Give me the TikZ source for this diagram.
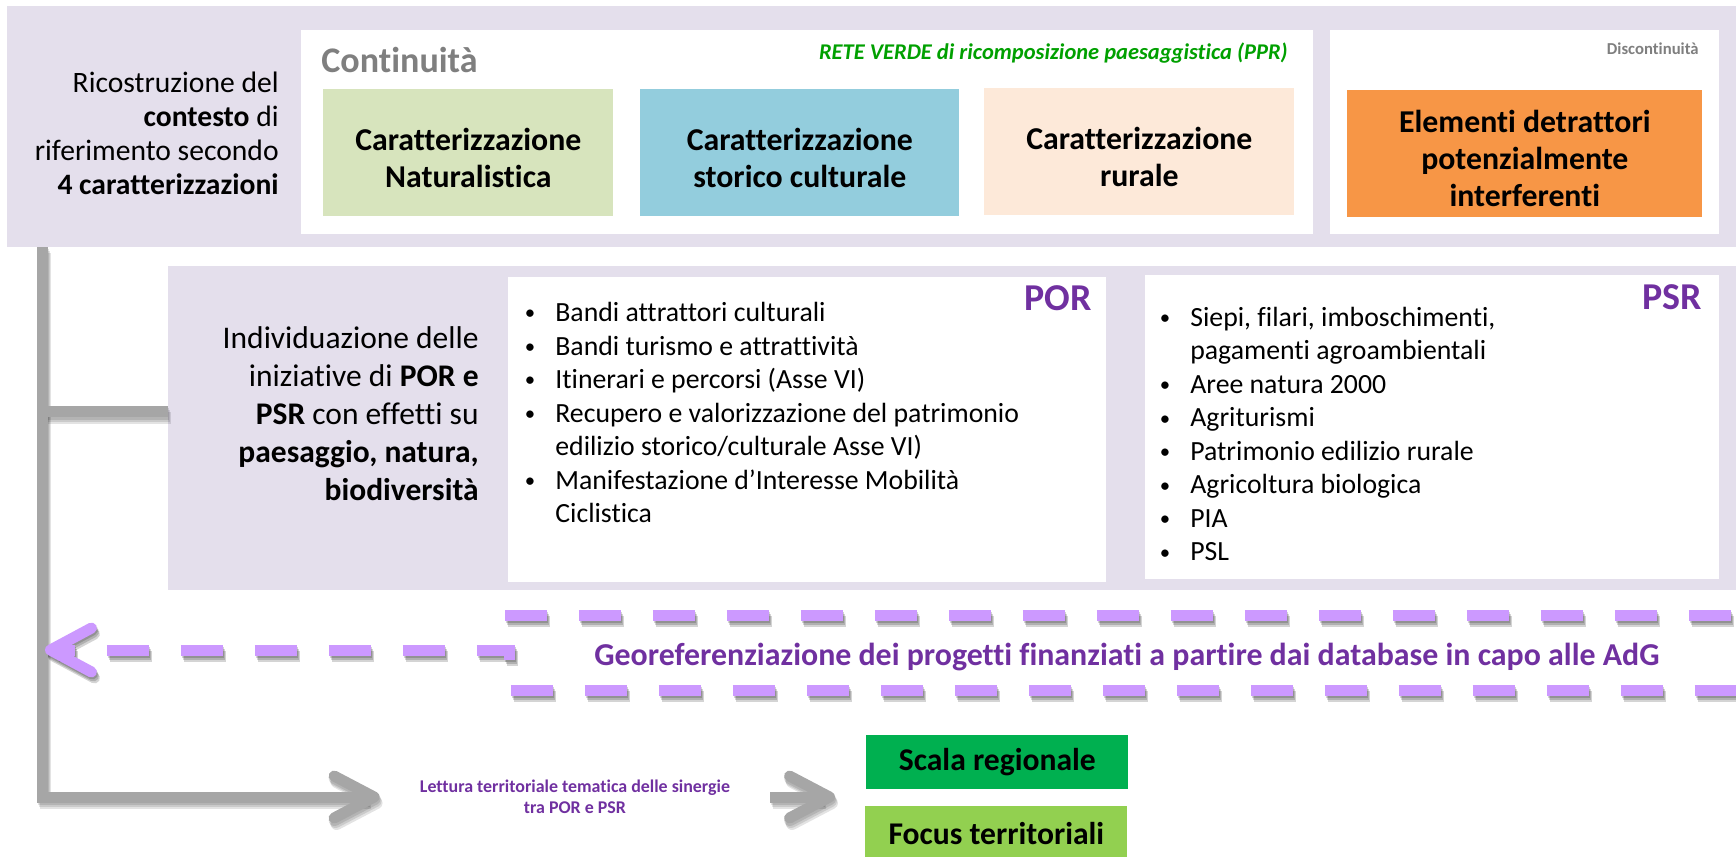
\documentclass[tikz,border=0pt]{standalone}
\usepackage{fontspec}
\setmainfont{Carlito}[Ligatures={NoCommon, NoContextual}]
\usepackage{tikz}
\usetikzlibrary{arrows.meta, positioning, calc}

\definecolor{bandlav}{HTML}{E4DFEC}
\definecolor{natgreen}{HTML}{D7E4BD}
\definecolor{stoblue}{HTML}{93CDDD}
\definecolor{rurpeach}{HTML}{FDE9D9}
\definecolor{detorange}{HTML}{F79646}
\definecolor{reteverde}{HTML}{00A000}
\definecolor{porpurple}{HTML}{7030A0}
\definecolor{dashlilac}{HTML}{CC99FF}
\definecolor{conngray}{HTML}{A6A6A6}
\definecolor{labelgray}{HTML}{7F7F7F}
\definecolor{scalagreen}{HTML}{00B050}
\definecolor{focusgreen}{HTML}{92D050}

\newcommand{\setfs}[2]{\fontsize{#1}{#2}\selectfont}
\newcommand{\itm}{\makebox[0.64cm][l]{\hspace{0.03cm}\raisebox{0.06em}{\scalebox{0.75}{\textbullet}}}}
\newcommand{\cnt}{\hspace*{0.64cm}}

\tikzset{
  band/.style={fill=bandlav, inner sep=0pt, outer sep=0pt, anchor=north west},
  panel/.style={fill=white, inner sep=0pt, outer sep=0pt, anchor=north west},
  catbox/.style={inner sep=0pt, anchor=north west, minimum height=2.54cm},
  cattext/.style={inner sep=0pt, align=center, yshift=-0.1cm, font=\bfseries\setfs{18.1}{21.06}},
  scalebox/.style={inner sep=0pt, anchor=north west, minimum width=5.24cm, minimum height=1.08cm,
    font=\bfseries\setfs{18}{21}},
  heading/.style={inner sep=0pt, anchor=east, font=\bfseries\setfs{21.6}{25}, text=porpurple},
  bullets/.style={inner sep=0pt, anchor=west, align=left, font=\setfs{15.8}{19.06}},
  conn/.style={draw=conngray, line width=0.22cm},
  connshadow/.style={draw=black, opacity=0.11, line width=0.24cm},
  barb/.style={-{Straight Barb[round, length=0.8cm, width=0.84cm]}},
  dashline/.style={draw=dashlilac, line width=0.22cm, dash pattern=on 0.84cm off 0.64cm},
  dashshadow/.style={dashline, draw=black, opacity=0.17},
}

\begin{document}
\begin{tikzpicture}[x=0.02cm, y=-0.02cm]
    \useasboundingbox (0,0) rectangle (1736,856);

    % Context band with the four characterisations
    \node[band, minimum width=34.58cm, minimum height=4.82cm] (topband) at (7,6) {};
    \node[panel, minimum width=20.24cm, minimum height=4.08cm] (contpanel) at (301,30) {};
    \node[panel, minimum width=7.78cm, minimum height=4.08cm] (discpanel) at (1330,30) {};
    \node[anchor=east, align=right, inner sep=0pt, font=\setfs{16.85}{19.3}] (ctx) at (279,133)
        {Ricostruzione del\\\textbf{contesto} di\\riferimento secondo\\\textbf{4 caratterizzazioni}};
    \node[anchor=west, inner sep=0pt, text=labelgray, font=\bfseries\setfs{20.5}{24}] (cont) at (321,60) {Continuità};
    \node[anchor=east, inner sep=0pt, text=reteverde, font=\bfseries\itshape\setfs{12.8}{15}] (rete) at (1288,53)
        {RETE VERDE di ricomposizione paesaggistica (PPR)};
    \node[anchor=east, inner sep=0pt, text=labelgray, font=\bfseries\setfs{9.5}{11}] (discont) at (1699,49) {Discontinuità};
    \node[catbox, fill=natgreen, minimum width=5.8cm] (natur) at (323,89) {};
    \node[catbox, fill=stoblue, minimum width=6.38cm] (storic) at (640,89) {};
    \node[catbox, fill=rurpeach, minimum width=6.2cm] (rural) at (984,88) {};
    \node[catbox, fill=detorange, minimum width=7.1cm] (detrat) at (1347,90) {};
    \node[cattext] (naturtxt) at (natur.center) {Caratterizzazione\\Naturalistica};
    \node[cattext] (storictxt) at (storic.center) {Caratterizzazione\\storico culturale};
    \node[cattext] (ruraltxt) at (rural.center) {Caratterizzazione\\rurale};
    \node[cattext] (detrattxt) at (detrat.center) {Elementi detrattori\\potenzialmente\\interferenti};

    % POR / PSR initiatives
    \node[band, minimum width=31.36cm, minimum height=6.48cm] (midband) at (168,266) {};
    \node[panel, minimum width=11.96cm, minimum height=6.1cm] (porpanel) at (508,277) {};
    \node[panel, minimum width=11.48cm, minimum height=6.08cm] (psrpanel) at (1145,275) {};
    \node[anchor=east, align=right, inner sep=0pt, font=\setfs{17.93}{21.6}] (inizia) at (479,414)
        {Individuazione delle\\iniziative di \textbf{POR e}\\\textbf{PSR} con effetti su\\\textbf{paesaggio, natura,}\\\textbf{biodiversità}};
    \node[heading] (porlab) at (1092,298) {POR};
    \node[heading] (psrlab) at (1702,297) {PSR};
    \node[bullets] (porlist) at (523,412.5)
        {\itm Bandi attrattori culturali\\
         \itm Bandi turismo e attrattività\\
         \itm Itinerari e percorsi (Asse VI)\\
         \itm Recupero e valorizzazione del patrimonio\\
         \cnt edilizio storico/culturale Asse VI)\\
         \itm Manifestazione d’Interesse Mobilità\\
         \cnt Ciclistica};
    \node[bullets] (psrlist) at (1158,434)
        {\itm Siepi, filari, imboschimenti,\\
         \cnt pagamenti agroambientali\\
         \itm Aree natura 2000\\
         \itm Agriturismi\\
         \itm Patrimonio edilizio rurale\\
         \itm Agricoltura biologica\\
         \itm PIA\\
         \itm PSL};

    % Georeferencing frame and outputs
    \node[anchor=west, inner sep=0pt, text=porpurple, font=\bfseries\setfs{18.15}{21}] (geo) at (594,657)
        {Georeferenziazione dei progetti finanziati a partire dai database in capo alle AdG};
    \node[align=center, inner sep=0pt, text=porpurple, font=\bfseries\setfs{10.2}{11.95}] (lettura) at (575,797)
        {Lettura territoriale tematica delle sinergie\\tra POR e PSR};
    \node[scalebox, fill=scalagreen] (scala) at (866,735) {Scala regionale};
    \node[scalebox, fill=focusgreen] (focus) at (865,806) {Focus territoriali};

    \coordinate (trunktop) at (42.5,247);
    \coordinate (trunkbot) at (42.5,797);
    \coordinate (branch) at (42.5,411.5);
    \coordinate (frametl) at (505,615);
    \coordinate (frametr) at (1745,615);
    \coordinate (knee) at (509,650);
    \coordinate (framebl) at (509,690);
    \coordinate (framebr) at (1745,690);

    % Soft shadows
    \foreach \k in {1,2,3} {
        \begin{scope}[transform canvas={shift={(\k,2*\k)}}]
            \draw[connshadow, barb, shorten >=0.8cm] (trunktop) -- (trunkbot) -- (trunkbot -| lettura.west);
            \draw[connshadow] (branch) -- (branch -| midband.west);
            \draw[connshadow, barb, shorten <=0.8cm, shorten >=0.62cm] (lettura.east) -- (lettura.east -| scala.west);
            \draw[dashshadow] (frametl) -- (frametr);
            \draw[dashshadow, dash phase=0.46cm, {Straight Barb[round, length=0.82cm, width=0.88cm]}-, shorten <=0.05cm]
                (knee -| trunktop) -- (knee) -- (framebl) -- (framebr);
        \end{scope}
    }

    % Grey flow lines
    \draw[conn, barb, shorten >=0.8cm] (trunktop) -- (trunkbot) -- (trunkbot -| lettura.west);
    \draw[conn] (branch) -- (branch -| midband.west);
    \draw[conn, barb, shorten <=0.8cm, shorten >=0.62cm] (lettura.east) -- (lettura.east -| scala.west);

    % Dashed frame with return arrow
    \draw[dashline] (frametl) -- (frametr);
    \draw[dashline, dash phase=0.46cm, {Straight Barb[round, length=0.82cm, width=0.88cm]}-, shorten <=0.05cm]
        (knee -| trunktop) -- (knee) -- (framebl) -- (framebr);
\end{tikzpicture}
\end{document}
